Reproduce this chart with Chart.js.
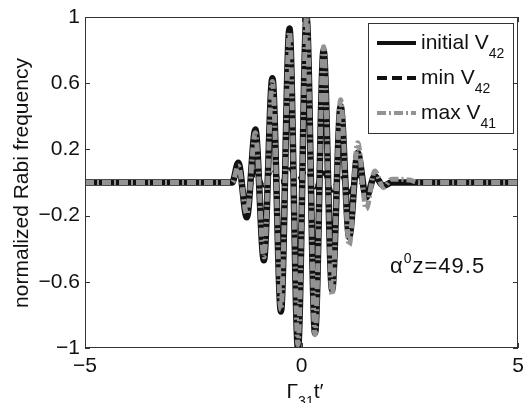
<!DOCTYPE html>
<html>
<head>
<meta charset="utf-8">
<script src="https://cdn.jsdelivr.net/npm/chart.js@4.4.1/dist/chart.umd.min.js"></script>
<style>
  html, body { margin: 0; padding: 0; background: #fff; }
  #wrap { width: 532px; height: 403px; position: relative; }
</style>
</head>
<body>
<div id="wrap"><canvas id="c" width="532" height="403"></canvas></div>
<script>
// Axis ticks
const xTicks = [-5, 0, 5];
const yTicks = [-1, -0.6, -0.2, 0.2, 0.6, 1];

// Initial V42: flat baseline, then the successive peaks and troughs of the pulse
const tInitial = [-5, -1.6, -1.46, -1.263, -1.066, -0.869, -0.672, -0.475, -0.278, -0.081,
                  0.116, 0.313, 0.51, 0.707, 0.904, 1.101, 1.298, 1.495, 1.692, 1.889, 2.086, 2.3, 5];
const vInitial = [0, 0, 0.12, -0.21, 0.32, -0.47, 0.63, -0.78, 0.93, -1.0,
                  1.0, -0.91, 0.80, -0.65, 0.46, -0.33, 0.18, -0.09, 0.04, -0.02, 0.0, 0, 0];

// Minimised V42: small residual ripple around zero
const tMin = [-5, -1.6, -1.46, -1.263, -1.066, -0.869, -0.672, -0.475, -0.278, -0.081,
              0.116, 0.313, 0.51, 0.707, 0.904, 1.101, 1.298, 1.495, 1.692, 1.889, 2.086, 2.3, 5];
const vMin = [0, 0, 0.06, -0.10, 0.07, -0.02, 0.08, 0.0, 0.08, 0.02,
              0.07, -0.03, 0.06, -0.05, 0.05, -0.06, 0.04, -0.07, 0.03, -0.02, 0.01, 0, 0];

// Maximised V41
const tMax = [-5, -1.6, -1.46, -1.263, -1.066, -0.869, -0.672, -0.475, -0.278, -0.081,
              0.116, 0.313, 0.51, 0.707, 0.904, 1.101, 1.298, 1.495, 1.692, 1.889, 2.086, 2.5, 2.7, 5];
const vMax = [0, 0, 0.10, -0.19, 0.30, -0.45, 0.61, -0.77, 0.91, -0.98,
              1.0, -0.92, 0.82, -0.68, 0.50, -0.38, 0.24, -0.16, 0.07, -0.03, 0.02, 0.015, 0, 0];

const seriesNames = ['initial', 'min', 'max'];
const seriesSubs = ['42', '42', '41'];
const annotationValue = '49.5';

const FONT = '"Liberation Sans", Arial, Helvetica, sans-serif';
const INK = '#111';
const GRAY = '#939393';
const DASH_MIN = [10, 5];
const DASH_MAX = [9, 3, 2, 3];

const toPts = (ts, vs) => ts.map((t, i) => ({ x: t, y: vs[i] }));
const fmt = v => {
  const r = Math.round(v * 10) / 10;
  const s = String(Math.abs(r));
  return r < 0 ? '\u2212' + s : s;
};

// Text with a raised or lowered small part
function richText(ctx, x, y, parts, align, spacing) {
  const sp = spacing || 0;
  let total = 0;
  parts.forEach(p => { ctx.font = p.size + 'px ' + FONT; total += ctx.measureText(p.t).width + sp * p.t.length; });
  let cx = align === 'center' ? x - total / 2 : x;
  parts.forEach(p => {
    ctx.font = p.size + 'px ' + FONT;
    ctx.textAlign = 'left';
    ctx.textBaseline = 'alphabetic';
    for (const ch of p.t) {
      ctx.fillText(ch, cx, y + (p.dy || 0));
      cx += ctx.measureText(ch).width + sp;
    }
  });
}

const decor = {
  id: 'decor',
  afterDatasetsDraw(chart) {
    const ctx = chart.ctx;
    const a = chart.chartArea;
    const xs = chart.scales.x, ys = chart.scales.y;
    ctx.save();
    // axes box with inward ticks
    ctx.strokeStyle = '#333';
    ctx.lineWidth = 1;
    ctx.strokeRect(a.left + 0.5, a.top + 0.5, a.right - a.left - 1, a.bottom - a.top - 1);
    ctx.beginPath();
    const TL = 5;
    yTicks.forEach(v => {
      const py = Math.round(ys.getPixelForValue(v)) + 0.5;
      ctx.moveTo(a.left, py); ctx.lineTo(a.left + TL, py);
      ctx.moveTo(a.right, py); ctx.lineTo(a.right - TL, py);
    });
    xTicks.forEach(v => {
      const px = Math.round(xs.getPixelForValue(v)) + 0.5;
      ctx.moveTo(px, a.bottom); ctx.lineTo(px, a.bottom - TL);
      ctx.moveTo(px, a.top); ctx.lineTo(px, a.top + TL);
    });
    ctx.stroke();

    // legend
    const lx = 368, ly = 23, lw = 145, lh = 110;
    ctx.fillStyle = '#fff';
    ctx.fillRect(lx, ly, lw, lh);
    ctx.strokeStyle = '#333';
    ctx.strokeRect(lx + 0.5, ly + 0.5, lw, lh);
    const rows = [49, 84, 119];
    const styles = [
      { c: INK, d: [] },
      { c: INK, d: DASH_MIN },
      { c: GRAY, d: DASH_MAX }
    ];
    rows.forEach((by, i) => {
      ctx.beginPath();
      ctx.strokeStyle = styles[i].c;
      ctx.lineWidth = 4;
      ctx.setLineDash(styles[i].d);
      ctx.moveTo(377, by - 6);
      ctx.lineTo(416, by - 6);
      ctx.stroke();
      ctx.setLineDash([]);
      ctx.fillStyle = INK;
      richText(ctx, 421, by, [
        { t: seriesNames[i] + ' V', size: 21 },
        { t: seriesSubs[i], size: 14, dy: 9 }
      ], 'left');
    });

    // parameter annotation
    ctx.fillStyle = INK;
    richText(ctx, 390, 273, [
      { t: '\u03b1', size: 22 },
      { t: '0', size: 14, dy: -10 },
      { t: 'z=' + annotationValue, size: 22 }
    ], 'left', 1);
    ctx.restore();
  },
  afterDraw(chart) {
    const ctx = chart.ctx;
    ctx.save();
    ctx.fillStyle = INK;
    // x axis title
    richText(ctx, 305, 398, [
      { t: '\u0393', size: 21 },
      { t: '31', size: 14, dy: 8 },
      { t: 't\u2032', size: 21 }
    ], 'center');
    // y axis title
    ctx.translate(28, 183);
    ctx.rotate(-Math.PI / 2);
    ctx.font = '21px ' + FONT;
    ctx.textAlign = 'center';
    ctx.textBaseline = 'alphabetic';
    ctx.fillText('normalized Rabi frequency', 0, 0);
    ctx.restore();
  }
};

new Chart(document.getElementById('c'), {
  type: 'line',
  data: {
    datasets: [
      { label: 'initial V42', data: toPts(tInitial, vInitial), borderColor: INK, borderWidth: 6.5, order: 3 },
      { label: 'min V42', data: toPts(tMin, vMin), borderColor: INK, borderWidth: 4, borderDash: DASH_MIN, order: 2 },
      { label: 'max V41', data: toPts(tMax, vMax), borderColor: GRAY, borderWidth: 5, borderDash: DASH_MAX, order: 1 }
    ]
  },
  options: {
    responsive: false,
    devicePixelRatio: 1,
    animation: false,
    layout: { padding: { top: 17, right: 14, left: 0, bottom: 0 } },
    elements: {
      point: { radius: 0 },
      line: { cubicInterpolationMode: 'monotone', borderJoinStyle: 'round', fill: false }
    },
    plugins: { legend: { display: false }, tooltip: { enabled: false } },
    scales: {
      x: {
        type: 'linear', min: -5, max: 5,
        afterBuildTicks: s => { s.ticks = xTicks.map(v => ({ value: v })); },
        afterFit: s => { s.height = 55; s.paddingLeft = 0; s.paddingRight = 0; },
        ticks: { callback: fmt, font: { family: FONT, size: 21 }, color: INK, padding: 6, maxRotation: 0, autoSkip: false },
        grid: { display: false, drawTicks: false },
        border: { display: false }
      },
      y: {
        type: 'linear', min: -1, max: 1,
        afterBuildTicks: s => { s.ticks = yTicks.map(v => ({ value: v })); },
        afterFit: s => { s.width = 85; s.paddingTop = 0; s.paddingBottom = 0; },
        ticks: { callback: fmt, font: { family: FONT, size: 21 }, color: INK, padding: 5, autoSkip: false },
        grid: { display: false, drawTicks: false },
        border: { display: false }
      }
    }
  },
  plugins: [decor]
});
</script>
</body>
</html>
